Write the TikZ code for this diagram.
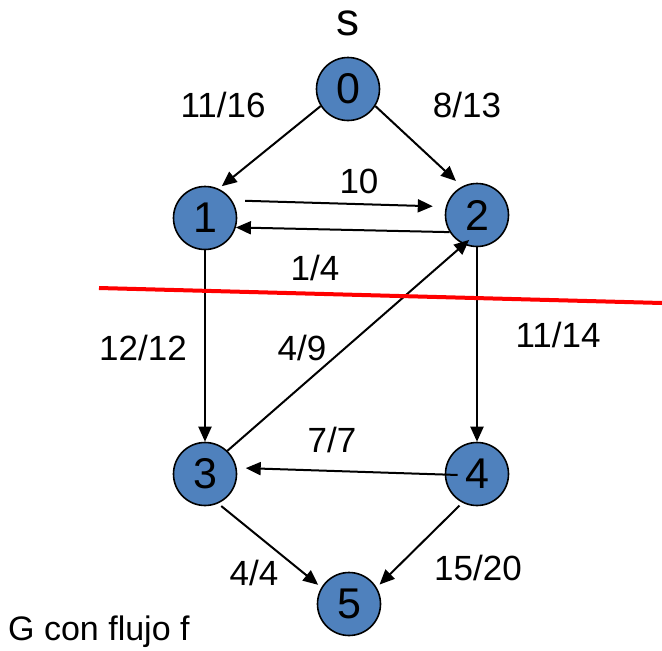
\documentclass[tikz,border=0pt]{standalone}
\usepackage{fontspec}
\setmainfont{Liberation Sans}
\usetikzlibrary{arrows.meta}
\definecolor{nodeblue}{RGB}{79,129,189}
\begin{document}
\begin{tikzpicture}[x=1pt,y=-1pt,
  vertex/.style={circle,draw=black,line width=1.6pt,fill=nodeblue,
    minimum size=63pt,inner sep=0pt,font=\fontsize{43}{47}\selectfont},
  flow/.style={anchor=base,inner sep=0pt,font=\fontsize{35}{40}\selectfont},
  arc/.style={line width=2pt,-{Triangle[length=15pt,width=13pt]}},
  cut/.style={red,line width=4pt}]
\useasboundingbox (0,0) rectangle (662,651);

% vertices
\node[vertex] (0) at (348,89) {0};
\node[vertex] (1) at (205,218) {1};
\node[vertex] (2) at (477,215) {2};
\node[vertex] (3) at (205,474) {3};
\node[vertex] (4) at (477,474) {4};
\node[vertex] (5) at (349,604) {5};

% source label
\node[anchor=base,inner sep=0pt,font=\fontsize{46}{50}\selectfont] (s) at (348,35) {s};

% arcs
\draw[arc,shorten >=4pt] (0.212) -- (1.65);
\draw[arc,shorten >=8pt] (0.328) -- (2.118);
\draw[arc,shorten <=13pt,shorten >=13pt] (1.33) -- (2.165);
\draw[arc] (2.212) -- (1.343);
\draw[arc] (1.south) -- (3.north);
\draw[arc] (2.south) -- (4.north);
\draw[arc,shorten >=-7pt] (3.46) -- (2.246);
\draw[arc,shorten <=-13pt,shorten >=9pt] (4.181) -- (3.11);
\draw[arc,shorten <=4pt,shorten >=4pt] (3.294) -- (5.149);
\draw[arc,shorten <=4pt,shorten >=4pt] (4.243) -- (5.31);

% flow / capacity labels
\node[flow] (l01) at (223,117) {11/16};
\node[flow] (l02) at (467,117) {8/13};
\node[flow] (l12) at (359,193) {10};
\node[flow] (l21) at (315,280) {1/4};
\node[flow] (l13) at (143,360) {12/12};
\node[flow] (l32) at (302,360) {4/9};
\node[flow] (l24) at (558,347) {11/14};
\node[flow] (l43) at (332,452) {7/7};
\node[flow] (l35) at (254,585) {4/4};
\node[flow] (l45) at (478,580) {15/20};

% cut line
\coordinate (cutA) at (99,288);
\coordinate (cutB) at (662,303);
\draw[cut] (cutA) -- (cutB);

% caption
\node[anchor=base west,inner sep=0pt,font=\fontsize{34}{38}\selectfont] (cap) at (8,640) {G con flujo f};
\end{tikzpicture}
\end{document}
